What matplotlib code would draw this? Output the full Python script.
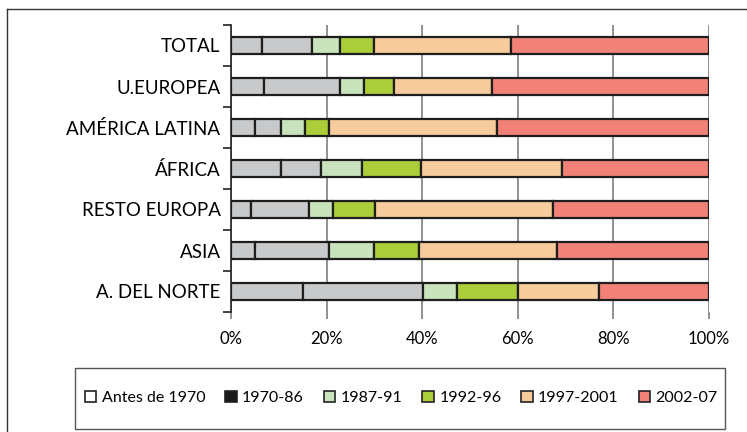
import numpy as np
import matplotlib
matplotlib.use("Agg")
import matplotlib.pyplot as plt
from matplotlib.patches import Patch, Rectangle
from matplotlib.lines import Line2D
from matplotlib.ticker import FixedLocator

plt.rcParams['font.family'] = ['Lato', 'DejaVu Sans']

# regions, top to bottom
regions = ["TOTAL", "U.EUROPEA", "AMÉRICA LATINA", "ÁFRICA", "RESTO EUROPA", "ASIA", "A. DEL NORTE"]
periods = ["Antes de 1970", "1970-86", "1987-91", "1992-96", "1997-2001", "2002-07"]

# share (%) of each period per region
antes_1970 = [6.4, 6.9, 5.0, 10.5, 4.2, 5.0, 15.1]
p1970_86 = [10.5, 15.9, 5.5, 8.3, 12.2, 15.6, 25.0]
p1987_91 = [5.9, 5.0, 5.0, 8.6, 5.0, 9.4, 7.2]
p1992_96 = [7.2, 6.3, 5.1, 12.3, 8.7, 9.3, 12.7]
p1997_2001 = [28.6, 20.6, 35.0, 29.5, 37.3, 29.0, 16.9]
p2002_07 = [41.4, 45.3, 44.4, 30.8, 32.6, 31.7, 23.1]

series = [antes_1970, p1970_86, p1987_91, p1992_96, p1997_2001, p2002_07]
bar_colors = ['#c8c9cb', '#c8c9cb', '#c9e4bd', '#accd3a', '#f7cc9c', '#f28278']
legend_colors = ['#ffffff', '#1a1a1a', '#c9e4bd', '#accd3a', '#f7cc9c', '#f28278']

fig = plt.figure(figsize=(7.47, 4.32), dpi=100)
ax = fig.add_axes([231/747, 1-312/432, 478/747, 287/432])

ypos = np.arange(len(regions))
left = np.zeros(len(regions))
for vals, col in zip(series, bar_colors):
    ax.barh(ypos, vals, left=left, height=0.43, color=col, edgecolor='#1e1e1e', linewidth=1.6, zorder=3)
    left = left + np.array(vals)

ax.set_xlim(0, 100)
ax.set_ylim(len(regions)-0.5, -0.5)
ax.set_yticks(ypos)
ax.set_yticklabels(regions, fontsize=13.5)
ax.yaxis.set_minor_locator(FixedLocator(np.arange(-0.5, len(regions), 1)))
ax.tick_params(axis='y', which='major', length=0, pad=7.5)
ax.tick_params(axis='y', which='minor', length=6, width=1.2, color='#222222', direction='out')

ax.set_xticks([0, 20, 40, 60, 80, 100])
ax.set_xticklabels(['0%', '20%', '40%', '60%', '80%', '100%'], fontsize=12)
ax.tick_params(axis='x', length=5, width=1.2, color='#7f7f7f', direction='out', pad=9)
ax.xaxis.grid(True, color='#7f7f7f', linewidth=1.2, zorder=0)

for s in ['top', 'right', 'bottom']:
    ax.spines[s].set_visible(False)
ax.spines['left'].set_color('#222222')
ax.spines['left'].set_linewidth(1.2)
ax.spines['left'].set_zorder(4)

# outer frame (only left and top edges show)
fig.add_artist(Line2D([7/747, 7/747], [0, 1-9/432], color='#333333', linewidth=1))
fig.add_artist(Line2D([7/747, 1], [1-9/432, 1-9/432], color='#333333', linewidth=1))

# legend box
fig.patches.append(Rectangle((75/747, 1-429/432), 650/747, 61/432, transform=fig.transFigure,
                             fill=False, edgecolor='#555555', linewidth=1))
handles = [Patch(facecolor=c, edgecolor='#222222', linewidth=1.2) for c in legend_colors]
fig.legend(handles, periods, loc='center left', ncol=6, frameon=False, fontsize=11.5,
           bbox_to_anchor=(85/747, 1-398/432), borderpad=0, borderaxespad=0,
           handlelength=0.7, handleheight=0.7, handletextpad=0.35, columnspacing=1.25)

plt.savefig("out.png", dpi=100)
